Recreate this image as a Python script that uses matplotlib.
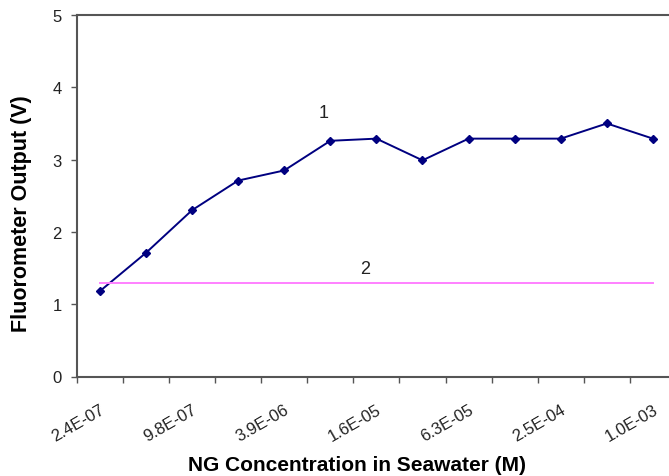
import numpy as np
import matplotlib.pyplot as plt
import matplotlib.transforms as mtransforms
from matplotlib.ticker import FixedLocator

plt.rcParams['font.family'] = ['Liberation Sans', 'DejaVu Sans']

# NG concentration categories (M) and fluorometer readings
concentrations = ['2.4E-07', '4.9E-07', '9.8E-07', '2.0E-06', '3.9E-06', '7.8E-06',
                  '1.6E-05', '3.1E-05', '6.3E-05', '1.3E-04', '2.5E-04', '5.0E-04', '1.0E-03']
output_1 = [1.18, 1.71, 2.30, 2.71, 2.85, 3.26, 3.29, 2.99, 3.29, 3.29, 3.29, 3.50, 3.29]
output_2 = [1.30] * len(concentrations)
y_ticks = [0, 1, 2, 3, 4, 5]

x = np.arange(len(concentrations))

fig = plt.figure(figsize=(6.69, 4.77), dpi=100)
ax = fig.add_axes([76.8 / 669, 1 - 377.5 / 477, (676 - 76.8) / 669, (377.5 - 16) / 477])

ax.plot(x, output_1, color='#000080', lw=1.4, marker='D', ms=4.5,
        markerfacecolor='#000080', markeredgecolor='#000080')
ax.plot(x, output_2, color='#ff80ff', lw=1.4)

ax.text(4.85, 3.65, '1', fontsize=13, ha='center', va='center', color='#222222')
ax.text(5.75, 1.49, '2', fontsize=13, ha='center', va='center', color='#222222')

ax.set_xlim(-0.5, len(concentrations) - 0.5)
ax.set_ylim(0, 5)
ax.set_yticks(y_ticks)

ax.set_xticks(x[::2])
ax.set_xticklabels(concentrations[::2], rotation=30, ha='right', rotation_mode='anchor')
shift = mtransforms.ScaledTranslation(4 / 100, 0, fig.dpi_scale_trans)
for lbl in ax.get_xticklabels():
    lbl.set_transform(lbl.get_transform() + shift)
ax.xaxis.set_minor_locator(FixedLocator(np.arange(-0.5, len(concentrations), 1.0)))
ax.tick_params(axis='x', which='major', length=0, pad=18, labelsize=12, labelcolor='#222222')
ax.tick_params(axis='x', which='minor', length=4, width=1, color='#555555')
ax.tick_params(axis='y', length=4.5, width=1, color='#555555', labelsize=12,
               labelcolor='#222222', pad=6.5)

for s in ax.spines.values():
    s.set_color('#555555')
    s.set_linewidth(1.5)

ax.set_xlabel('NG Concentration in Seawater (M)', fontsize=15, fontweight='bold', va='center')
ax.set_ylabel('Fluorometer Output (V)', fontsize=15.5, fontweight='bold', va='center', ha='center')
ax.xaxis.set_label_coords((356.5 - 76.8) / 599.2, (377.5 - 466) / 361.5)
ax.yaxis.set_label_coords((22 - 76.8) / 599.2, (377.5 - 214) / 361.5)

fig.savefig('out.png', dpi=100)
